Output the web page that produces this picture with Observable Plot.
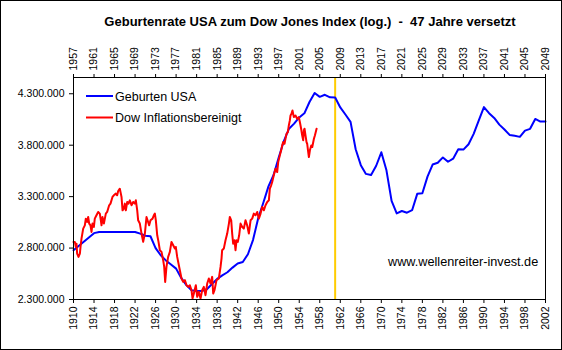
<!DOCTYPE html>
<html>
<head>
<meta charset="utf-8">
<script src="https://cdn.jsdelivr.net/npm/d3@7"></script>
<script src="https://cdn.jsdelivr.net/npm/@observablehq/plot@0.6"></script>
<style>
  html, body { margin: 0; padding: 0; background: #fff; }
  #wrap { position: relative; width: 562px; height: 350px; overflow: hidden; font-family: 'Liberation Sans', Arial, sans-serif; }
  #wrap > svg.overlay { position: absolute; left: 0; top: 0; pointer-events: none; }
  #border { position: absolute; left: 0; top: 0; width: 560px; height: 348px; border: 1px solid #000; }
</style>
</head>
<body>
<div id="wrap"><div id="chart"></div><div id="border"></div></div>
<script>
// ---- data ----
const shiftYears = 47;          // Dow years plotted 47 years earlier
const markerYearTop = 2008;     // orange vertical marker (top axis year)

const birthYears = [1910,1911,1912,1913,1914,1915,1916,1917,1918,1919,1920,1921,1922,1923,1924,1925,1926,1927,1928,1929,
  1930,1931,1932,1933,1934,1935,1936,1937,1938,1939,1940,1941,1942,1943,1944,1945,1946,1947,1948,1949,
  1950,1951,1952,1953,1954,1955,1956,1957,1958,1959,1960,1961,1962,1963,1964,1965,1966,1967,1968,1969,
  1970,1971,1972,1973,1974,1975,1976,1977,1978,1979,1980,1981,1982,1983,1984,1985,1986,1987,1988,1989,
  1990,1991,1992,1993,1994,1995,1996,1997,1998,1999,2000,2001,2002];
// births in thousands
const birthsUSA = [2779,2820,2862,2903,2945,2956,2956,2956,2956,2956,2956,2956,2956,2940,2920,2915,2800,2730,2680,2640,
  2600,2510,2440,2390,2383,2383,2400,2450,2500,2535,2565,2610,2650,2665,2740,2880,3090,3240,3400,3510,
  3680,3840,3960,4010,4070,4110,4220,4308,4270,4290,4265,4264,4167,4098,4027,3760,3606,3521,3510,3600,
  3731,3556,3258,3137,3160,3144,3168,3327,3333,3494,3612,3629,3681,3639,3669,3761,3757,3809,3910,4041,
  4170,4111,4065,4000,3953,3900,3891,3881,3942,3959,4055,4030,4030];

// Dow Jones, inflation adjusted (log), expressed in left-axis units (thousands)
const dowDates = [1957.00,1957.26,1957.46,1957.58,1957.71,1957.98,1958.24,1958.37,1958.56,1958.89,1959.21,1959.40,1959.66,1959.86,
  1960.06,1960.31,1960.51,1960.70,1960.97,1961.15,1961.48,1961.81,1962.13,1962.33,1962.46,1962.65,1962.92,1963.30,1963.56,
  1963.95,1964.21,1964.60,1964.86,1965.25,1965.51,1965.71,1966.03,1966.23,1966.36,1966.56,1966.81,1967.00,1967.20,1967.47,
  1967.72,1967.98,1968.31,1968.63,1968.96,1969.15,1969.42,1969.60,1969.93,1970.26,1970.58,1970.91,1971.23,1971.43,1971.75,
  1972.01,1972.41,1972.66,1972.86,1973.05,1973.32,1973.57,1973.83,1974.16,1974.48,1974.68,1974.87,1975.12,1975.45,1975.78,
  1976.10,1976.43,1976.76,1976.94,1977.21,1977.47,1977.73,1978.05,1978.38,1978.71,1979.03,1979.35,1979.68,1980.00,1980.20,
  1980.46,1980.84,1981.11,1981.43,1981.76,1982.08,1982.40,1982.73,1983.06,1983.38,1983.70,1984.03,1984.23,1984.48,1984.88,
  1985.33,1985.66,1985.85,1985.97,1986.30,1986.63,1986.96,1987.29,1987.47,1987.74,1987.93,1988.12,1988.38,1988.58,1988.78,
  1989.03,1989.29,1989.56,1989.88,1990.20,1990.53,1990.85,1991.18,1991.51,1991.83,1992.15,1992.48,1992.81,1993.13,1993.46,
  1993.78,1994.10,1994.43,1994.76,1995.08,1995.27,1995.53,1995.73,1996.04,1996.37,1996.70,1996.90,1997.22,1997.48,1997.68,
  1997.87,1998.13,1998.32,1998.52,1998.78,1998.97,1999.17,1999.30,1999.49,1999.68,1999.95,2000.27,2000.59,2000.92,2001.12,
  2001.37,2001.57,2001.77,2001.90,2002.03,2002.22,2002.42,2002.55,2002.75,2002.88,2003.08,2003.34,2003.54,2003.86,2004.05,2004.38];
const dowValues = [2860,2860,2811,2843,2746,2714,2746,2811,2892,2989,3021,3086,3054,3102,
  3038,3021,2957,3038,3005,3086,3119,3151,3135,3070,3021,3102,3038,3135,3151,
  3216,3232,3297,3313,3329,3313,3355,3377,3329,3297,3167,3183,3232,3167,3248,
  3232,3264,3216,3248,3232,3264,3167,3070,3038,2941,2860,2941,3102,3070,3021,
  3070,3086,3119,3135,3070,2924,2860,2779,2763,2682,2617,2471,2617,2714,2763,
  2860,2827,2795,2811,2714,2649,2585,2504,2471,2488,2439,2423,2439,2390,2310,
  2358,2439,2326,2374,2310,2390,2423,2342,2455,2504,2455,2520,2358,2390,2488,
  2504,2617,2698,2779,2795,2876,2941,3038,3102,3070,2941,2843,2876,2779,2876,
  2860,2924,3038,3005,2989,3070,3021,2941,3070,3086,3135,3119,3151,3086,3135,
  3199,3167,3216,3248,3264,3377,3410,3442,3507,3572,3539,3636,3701,3750,3798,
  3830,3814,3863,3911,3928,3992,4041,4089,4106,4138,4073,4089,4057,4073,4025,
  3960,3895,3847,3944,3960,3895,3830,3814,3733,3685,3750,3798,3782,3863,3895,3960];

const bottomTickYears = [1910,1914,1918,1922,1926,1930,1934,1938,1942,1946,1950,1954,1958,1962,1966,1970,1974,1978,1982,1986,1990,1994,1998,2002];
const topTickYears = [1957,1961,1965,1969,1973,1977,1981,1985,1989,1993,1997,2001,2005,2009,2013,2017,2021,2025,2029,2033,2037,2041,2045,2049];
const yTicks = [2300,2800,3300,3800,4300];

const titleText = "Geburtenrate USA zum Dow Jones Index (log.)  -  47 Jahre versetzt";
const legendLabels = ["Geburten USA", "Dow Inflationsbereinigt"];
const sourceText = "www.wellenreiter-invest.de";
const colors = {births: "#0000FF", dow: "#FF0000", marker: "#FFCC00"};

// ---- build ----
const births = birthYears.map((y, i) => ({year: y, value: birthsUSA[i]}));
const dow = dowDates.map((t, i) => ({t, value: dowValues[i]}));
const deFmt = d => d3.format(",")(d * 1000).replace(/,/g, ".");

const chart = Plot.plot({
  width: 562,
  height: 350,
  marginLeft: 73,
  marginRight: 17,
  marginTop: 77,
  marginBottom: 51,
  style: {fontFamily: "'Liberation Sans', Arial, sans-serif", fontSize: "10.5px", color: "#000", background: "transparent", overflow: "visible"},
  x: {domain: [1910, 2002]},
  y: {domain: [2300, 4458]},
  marks: [
    Plot.ruleX([markerYearTop - shiftYears], {stroke: colors.marker, strokeWidth: 2}),
    Plot.line(births, {x: "year", y: "value", stroke: colors.births, strokeWidth: 2}),
    Plot.line(dow, {x: d => d.t - shiftYears, y: "value", stroke: colors.dow, strokeWidth: 2}),
    Plot.frame({stroke: "#000"}),
    Plot.axisX({anchor: "bottom", ticks: bottomTickYears, tickFormat: d => String(d), tickRotate: -90, tickSize: 4, tickPadding: 3, label: null}),
    Plot.axisX({anchor: "top", ticks: topTickYears.map(y => y - shiftYears), tickFormat: d => String(d + shiftYears), tickRotate: -90, tickSize: 4, tickPadding: 3, label: null}),
    Plot.axisY({ticks: yTicks, tickFormat: deFmt, tickSize: 4, tickPadding: 5, label: null})
  ]
});
document.getElementById("chart").appendChild(chart);

// ---- overlay: title, legend, source ----
const ov = d3.select("#wrap").append("svg").attr("class", "overlay").attr("width", 562).attr("height", 350)
  .style("font-family", "'Liberation Sans', Arial, sans-serif");
ov.append("text").attr("x", 310).attr("y", 26).attr("text-anchor", "middle")
  .style("white-space", "pre").attr("xml:space", "preserve")
  .attr("font-size", 13).attr("font-weight", "bold").text(titleText);
const legendColors = [colors.births, colors.dow];
legendLabels.forEach((lab, i) => {
  const y = 96 + i * 21.5;
  ov.append("line").attr("x1", 86).attr("x2", 113).attr("y1", y).attr("y2", y)
    .attr("stroke", legendColors[i]).attr("stroke-width", 2);
  ov.append("text").attr("x", 115).attr("y", y + 4.5).attr("font-size", 12.5).text(lab);
});
ov.append("text").attr("x", 388).attr("y", 266).attr("font-size", 12.7).text(sourceText);
</script>
</body>
</html>
